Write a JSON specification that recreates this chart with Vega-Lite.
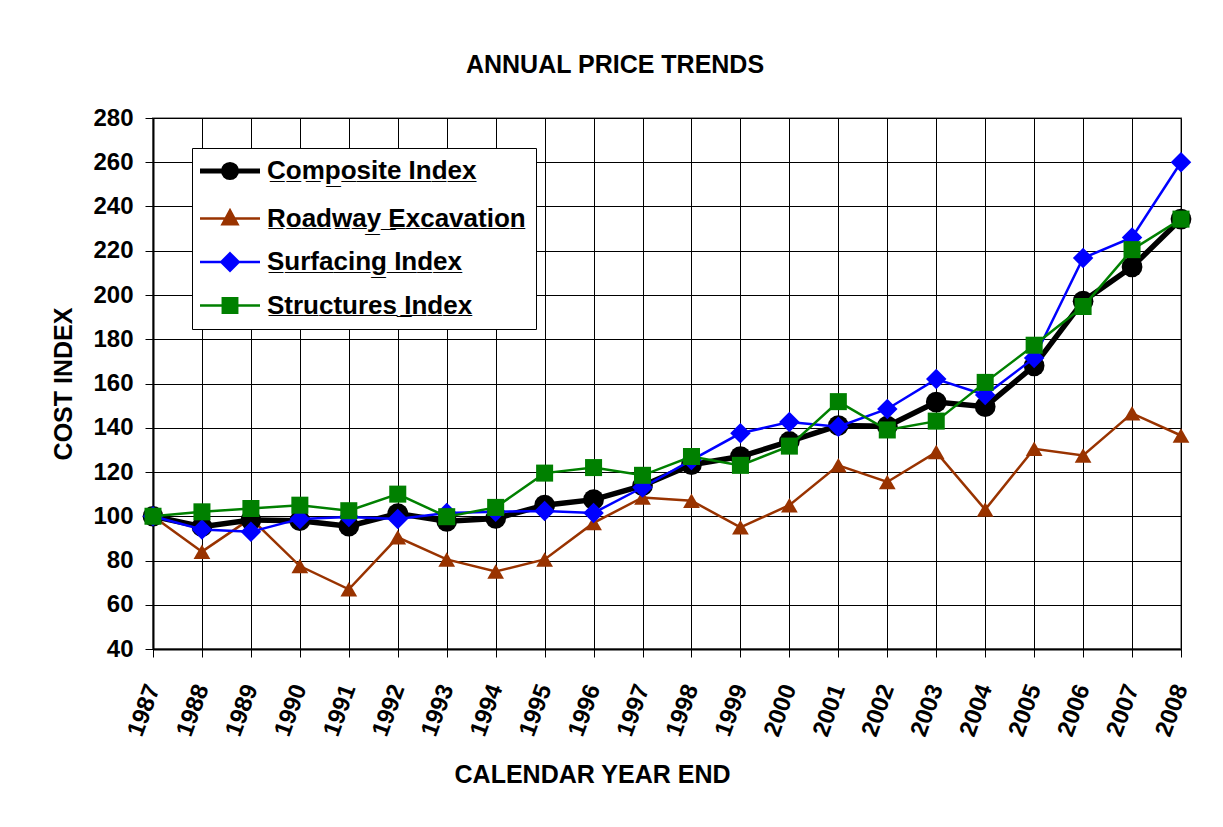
{
  "$schema": "https://vega.github.io/schema/vega-lite/v6.json",
  "width": 1028,
  "height": 531,
  "autosize": {"type": "none"},
  "padding": {"left": 153, "top": 118, "right": 42, "bottom": 178},
  "background": "white",
  "title": {
    "text": "ANNUAL PRICE TRENDS",
    "font": "Liberation Sans",
    "fontSize": 25,
    "fontWeight": "bold",
    "color": "black",
    "anchor": "middle",
    "dx": -52,
    "offset": 8,
    "baseline": "alphabetic"
  },
  "config": {
    "view": {"stroke": "#999999", "strokeWidth": 2},
    "axis": {
      "labelFont": "Liberation Sans",
      "labelFontWeight": "bold",
      "labelFontSize": 24,
      "labelColor": "black",
      "titleFont": "Liberation Sans",
      "titleFontWeight": "bold",
      "titleFontSize": 25,
      "titleColor": "black",
      "domainColor": "black",
      "domainWidth": 2,
      "tickColor": "black",
      "tickSize": 8,
      "tickWidth": 1,
      "gridColor": "black",
      "gridWidth": 1,
      "gridOpacity": 1
    }
  },
  "data": {
    "values": [
      {"year": 1987, "series": "Roadway Excavation", "value": 100},
      {"year": 1988, "series": "Roadway Excavation", "value": 84},
      {"year": 1989, "series": "Roadway Excavation", "value": 99},
      {"year": 1990, "series": "Roadway Excavation", "value": 77.5},
      {"year": 1991, "series": "Roadway Excavation", "value": 67},
      {"year": 1992, "series": "Roadway Excavation", "value": 90.5},
      {"year": 1993, "series": "Roadway Excavation", "value": 80.5},
      {"year": 1994, "series": "Roadway Excavation", "value": 75},
      {"year": 1995, "series": "Roadway Excavation", "value": 80.5},
      {"year": 1996, "series": "Roadway Excavation", "value": 97},
      {"year": 1997, "series": "Roadway Excavation", "value": 108.5},
      {"year": 1998, "series": "Roadway Excavation", "value": 107},
      {"year": 1999, "series": "Roadway Excavation", "value": 95},
      {"year": 2000, "series": "Roadway Excavation", "value": 105},
      {"year": 2001, "series": "Roadway Excavation", "value": 123},
      {"year": 2002, "series": "Roadway Excavation", "value": 115.5},
      {"year": 2003, "series": "Roadway Excavation", "value": 129},
      {"year": 2004, "series": "Roadway Excavation", "value": 103},
      {"year": 2005, "series": "Roadway Excavation", "value": 130.5},
      {"year": 2006, "series": "Roadway Excavation", "value": 127.5},
      {"year": 2007, "series": "Roadway Excavation", "value": 146.5},
      {"year": 2008, "series": "Roadway Excavation", "value": 136.5},
      {"year": 1987, "series": "Composite Index", "value": 100},
      {"year": 1988, "series": "Composite Index", "value": 95.3},
      {"year": 1989, "series": "Composite Index", "value": 98.3},
      {"year": 1990, "series": "Composite Index", "value": 98},
      {"year": 1991, "series": "Composite Index", "value": 95.5},
      {"year": 1992, "series": "Composite Index", "value": 101.2},
      {"year": 1993, "series": "Composite Index", "value": 97.7},
      {"year": 1994, "series": "Composite Index", "value": 99},
      {"year": 1995, "series": "Composite Index", "value": 105},
      {"year": 1996, "series": "Composite Index", "value": 107.5},
      {"year": 1997, "series": "Composite Index", "value": 113.8},
      {"year": 1998, "series": "Composite Index", "value": 123.3},
      {"year": 1999, "series": "Composite Index", "value": 127},
      {"year": 2000, "series": "Composite Index", "value": 133.8},
      {"year": 2001, "series": "Composite Index", "value": 141},
      {"year": 2002, "series": "Composite Index", "value": 140.7},
      {"year": 2003, "series": "Composite Index", "value": 151.6},
      {"year": 2004, "series": "Composite Index", "value": 149.5},
      {"year": 2005, "series": "Composite Index", "value": 168},
      {"year": 2006, "series": "Composite Index", "value": 197.2},
      {"year": 2007, "series": "Composite Index", "value": 212.7},
      {"year": 2008, "series": "Composite Index", "value": 234.3},
      {"year": 1987, "series": "Surfacing Index", "value": 100},
      {"year": 1988, "series": "Surfacing Index", "value": 94},
      {"year": 1989, "series": "Surfacing Index", "value": 93},
      {"year": 1990, "series": "Surfacing Index", "value": 98.8},
      {"year": 1991, "series": "Surfacing Index", "value": 99.7},
      {"year": 1992, "series": "Surfacing Index", "value": 98.8},
      {"year": 1993, "series": "Surfacing Index", "value": 101.5},
      {"year": 1994, "series": "Surfacing Index", "value": 102},
      {"year": 1995, "series": "Surfacing Index", "value": 102.4},
      {"year": 1996, "series": "Surfacing Index", "value": 101.5},
      {"year": 1997, "series": "Surfacing Index", "value": 113},
      {"year": 1998, "series": "Surfacing Index", "value": 125.4},
      {"year": 1999, "series": "Surfacing Index", "value": 137.5},
      {"year": 2000, "series": "Surfacing Index", "value": 142.6},
      {"year": 2001, "series": "Surfacing Index", "value": 140.5},
      {"year": 2002, "series": "Surfacing Index", "value": 148.5},
      {"year": 2003, "series": "Surfacing Index", "value": 162},
      {"year": 2004, "series": "Surfacing Index", "value": 154.8},
      {"year": 2005, "series": "Surfacing Index", "value": 171.5},
      {"year": 2006, "series": "Surfacing Index", "value": 216.7},
      {"year": 2007, "series": "Surfacing Index", "value": 226},
      {"year": 2008, "series": "Surfacing Index", "value": 260},
      {"year": 1987, "series": "Structures Index", "value": 100},
      {"year": 1988, "series": "Structures Index", "value": 102},
      {"year": 1989, "series": "Structures Index", "value": 103.5},
      {"year": 1990, "series": "Structures Index", "value": 105},
      {"year": 1991, "series": "Structures Index", "value": 102.5},
      {"year": 1992, "series": "Structures Index", "value": 110},
      {"year": 1993, "series": "Structures Index", "value": 99.8},
      {"year": 1994, "series": "Structures Index", "value": 104},
      {"year": 1995, "series": "Structures Index", "value": 119.5},
      {"year": 1996, "series": "Structures Index", "value": 122},
      {"year": 1997, "series": "Structures Index", "value": 118.5},
      {"year": 1998, "series": "Structures Index", "value": 127},
      {"year": 1999, "series": "Structures Index", "value": 123},
      {"year": 2000, "series": "Structures Index", "value": 131.7},
      {"year": 2001, "series": "Structures Index", "value": 151.8},
      {"year": 2002, "series": "Structures Index", "value": 139},
      {"year": 2003, "series": "Structures Index", "value": 143},
      {"year": 2004, "series": "Structures Index", "value": 160.5},
      {"year": 2005, "series": "Structures Index", "value": 177.3},
      {"year": 2006, "series": "Structures Index", "value": 194.8},
      {"year": 2007, "series": "Structures Index", "value": 220.5},
      {"year": 2008, "series": "Structures Index", "value": 234.3}
    ]
  },
  "encoding": {
    "x": {
      "field": "year",
      "type": "ordinal",
      "scale": {"type": "point", "padding": 0},
      "axis": {
        "title": "CALENDAR YEAR END",
        "labelAngle": -70,
        "labelPadding": 28,
        "titlePadding": 23,
        "titleX": 439,
        "grid": true
      }
    },
    "y": {
      "field": "value",
      "type": "quantitative",
      "scale": {"domain": [40, 280], "nice": false, "zero": false},
      "axis": {
        "title": "COST INDEX",
        "values": [40, 60, 80, 100, 120, 140, 160, 180, 200, 220, 240, 260, 280],
        "labelPadding": 12,
        "titlePadding": 16,
        "grid": true
      }
    },
    "color": {
      "field": "series",
      "type": "nominal",
      "scale": {
        "domain": ["Composite Index", "Roadway Excavation", "Surfacing Index", "Structures Index"],
        "range": ["#000000", "#993300", "#0000ff", "#008000"]
      },
      "legend": {
        "title": null,
        "orient": "none",
        "legendX": 39,
        "legendY": 30,
        "direction": "vertical",
        "fillColor": "white",
        "strokeColor": "black",
        "padding": 10,
        "symbolSize": 3600,
        "symbolOffset": 15,
        "labelFont": "Liberation Sans",
        "labelFontWeight": "bold",
        "labelFontSize": 26,
        "labelColor": "black",
        "labelOffset": 24,
        "labelLimit": 0,
        "rowPadding": 16.5,
        "labelExpr": "join(split(datum.label, ''), '\u0332') + '\u0332'",
        "encode": {
          "legend": {"update": {"strokeWidth": {"value": 1}}},
          "symbols": {
            "update": {
              "shape": {"signal": "datum.value === 'Composite Index' ? 'M-1,0H1M0.22,0A0.22,0.22,0,1,1,-0.22,0A0.22,0.22,0,1,1,0.22,0Z' : datum.value === 'Roadway Excavation' ? 'M-1,0H1M0,-0.27L0.25,0.19L-0.25,0.19Z' : datum.value === 'Surfacing Index' ? 'M-1,0H1M0,-0.29L0.29,0L0,0.29L-0.29,0Z' : 'M-1,0H1M-0.24,-0.24H0.24V0.24H-0.24Z'"},
              "fill": {"signal": "datum.value === 'Composite Index' ? '#000000' : datum.value === 'Roadway Excavation' ? '#993300' : datum.value === 'Surfacing Index' ? '#0000ff' : '#008000'"},
              "stroke": {"signal": "datum.value === 'Composite Index' ? '#000000' : datum.value === 'Roadway Excavation' ? '#993300' : datum.value === 'Surfacing Index' ? '#0000ff' : '#008000'"},
              "strokeWidth": {"signal": "datum.value === 'Composite Index' ? 5 : 2.5"}
            }
          }
        }
      }
    }
  },
  "layer": [
    {
      "transform": [{"filter": "datum.series === 'Roadway Excavation'"}],
      "mark": {"type": "line", "strokeWidth": 2.5, "point": {"filled": true, "shape": "triangle-up", "size": 280}}
    },
    {
      "transform": [{"filter": "datum.series === 'Composite Index'"}],
      "mark": {"type": "line", "strokeWidth": 5.5, "point": {"filled": true, "shape": "circle", "size": 430}}
    },
    {
      "transform": [{"filter": "datum.series === 'Surfacing Index'"}],
      "mark": {"type": "line", "strokeWidth": 2.5, "point": {"filled": true, "shape": "diamond", "size": 420}}
    },
    {
      "transform": [{"filter": "datum.series === 'Structures Index'"}],
      "mark": {"type": "line", "strokeWidth": 2.5, "point": {"filled": true, "shape": "square", "size": 290}}
    }
  ]
}
